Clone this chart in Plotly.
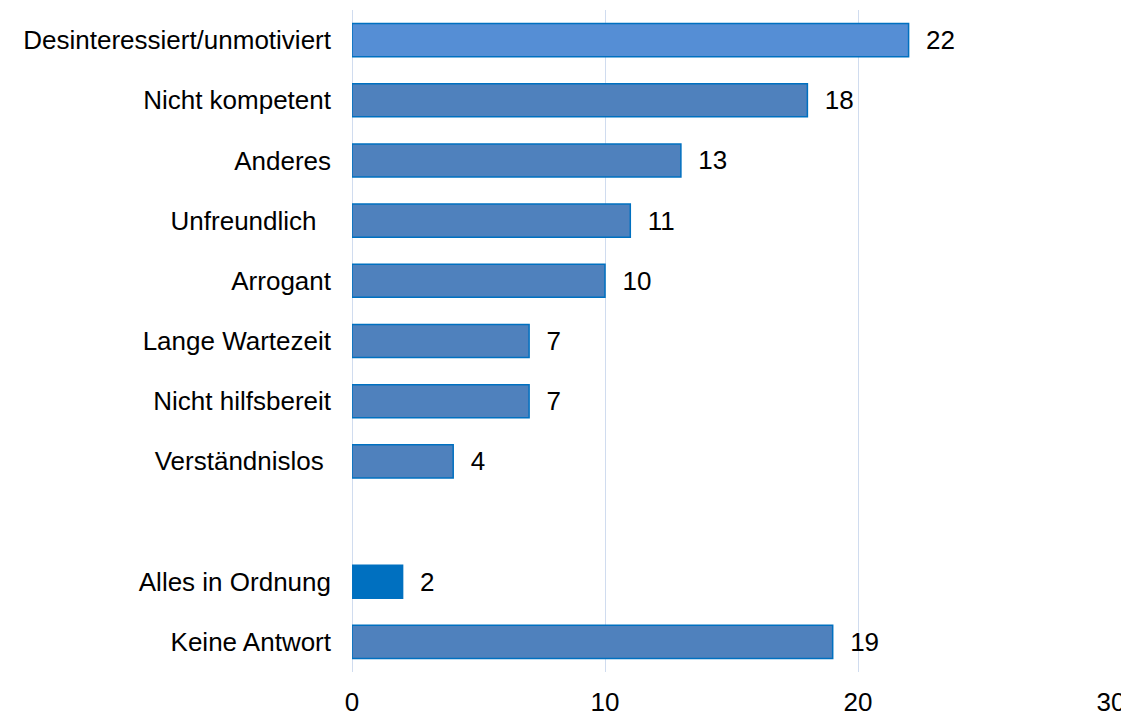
import plotly.graph_objects as go

categories = ["Desinteressiert/unmotiviert", "Nicht kompetent", "Anderes", "Unfreundlich",
              "Arrogant", "Lange Wartezeit", "Nicht hilfsbereit", "Verständnislos",
              "", "Alles in Ordnung", "Keine Antwort"]
tick_labels = ["Desinteressiert/unmotiviert", "Nicht kompetent", "Anderes", "Unfreundlich\u00a0\u00a0",
               "Arrogant", "Lange Wartezeit", "Nicht hilfsbereit", "Verständnislos\u00a0",
               "", "Alles in Ordnung", "Keine Antwort"]
values = [22, 18, 13, 11, 10, 7, 7, 4, None, 2, 19]
bar_colors = ["#558ED5", "#4F81BD", "#4F81BD", "#4F81BD", "#4F81BD", "#4F81BD", "#4F81BD",
              "#4F81BD", "#4F81BD", "#0070C0", "#4F81BD"]

FONT = "Liberation Sans, Arial, sans-serif"
FS = 26

ypos = list(range(len(categories)))
texts = ["\u00a0\u00a0" + str(v) if v is not None else "" for v in values]

fig = go.Figure(go.Bar(
    x=values, y=ypos, orientation="h",
    marker=dict(color=bar_colors, line=dict(color="#0070C0", width=1.5)),
    width=0.55,
    text=texts, textposition="outside", cliponaxis=False,
    textfont=dict(family=FONT, size=FS, color="#000000"),
))

fig.update_layout(
    width=1121, height=708,
    margin=dict(l=344, r=18, t=2, b=44, autoexpand=False),
    plot_bgcolor="white", paper_bgcolor="white",
    showlegend=False,
    font=dict(family=FONT, size=FS, color="#000000"),
)
fig.update_xaxes(range=[0, 30], tickvals=[0, 10, 20, 30], showgrid=True,
                 gridcolor="#D0DCEF", gridwidth=1, zeroline=True, zerolinecolor="#D0DCEF",
                 zerolinewidth=1, showline=False, ticks="", ticklabelstandoff=12,
                 automargin=False, tickfont=dict(size=FS))
fig.update_yaxes(tickvals=ypos, ticktext=tick_labels, range=[len(categories) - 0.5, -0.5],
                 showgrid=False, zeroline=False, showline=False, ticks="",
                 ticklabelstandoff=20, automargin=False, tickfont=dict(size=FS))

fig.write_html("out.html")
